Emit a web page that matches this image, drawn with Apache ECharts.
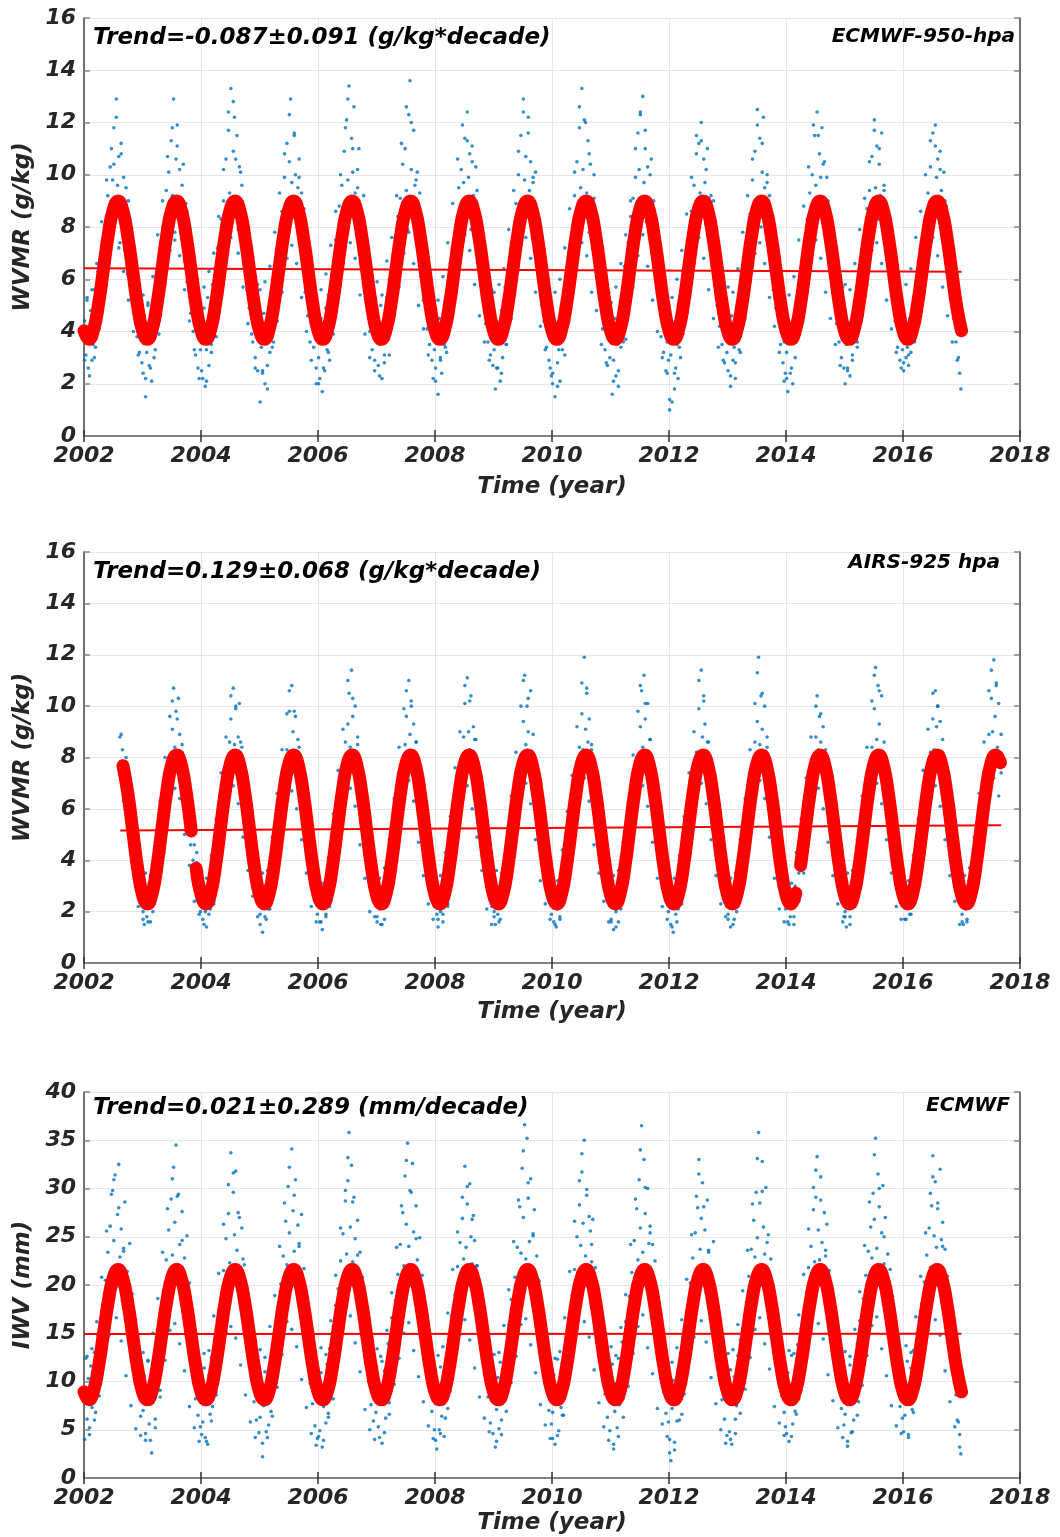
<!DOCTYPE html>
<html><head><meta charset="utf-8">
<script src="https://cdn.jsdelivr.net/npm/echarts@6/dist/echarts.min.js"></script>
<style>html,body{margin:0;padding:0;background:#fff}#c{width:1060px;height:1537px}</style>
</head><body><div id="c"></div>
<script>
// ---------- axis ticks ----------
const xTicks = [2002, 2004, 2006, 2008, 2010, 2012, 2014, 2016, 2018];
const yTicksWvmr = [0, 2, 4, 6, 8, 10, 12, 14, 16];
const yTicksIwv = [0, 5, 10, 15, 20, 25, 30, 35, 40];

// ---------- text ----------
const trendText950 = 'Trend=-0.087±0.091 (g/kg*decade)';
const trendTextAirs = 'Trend=0.129±0.068 (g/kg*decade)';
const trendTextIwv = 'Trend=0.021±0.289 (mm/decade)';
const label950 = 'ECMWF-950-hpa';
const labelAirs = 'AIRS-925 hpa';
const labelIwv = 'ECMWF';

// ---------- scatter observations: main rows (48 per year) ----------
const obsYears950 = [2002,2003,2004,2005,2006,2007,2008,2009,2010,2011,2012,2013,2014,2015,2016];
const obs950 = [
 [4.4,3.1,5.2,2.6,3.9,4.8,2.9,3.5, 5.6,3.4,4.9,6.3,4.2,6.8,5.1,7.4, 5.7,8.1,6.6,9.2,7.0,10.3,7.6,9.8, 11.8,8.2,12.9,9.6,10.7,7.4,11.2,8.9, 9.9,7.1,8.8,6.2,9.0,5.8,7.6,5.3, 6.9,4.6,5.9,3.8,5.3,3.2,4.7,2.8],
 [2.4,4.6,1.5,3.2,5.1,2.7,3.9,2.1, 4.8,3.0,5.7,4.1,6.2,3.9,7.1,5.4, 8.0,6.1,7.3,9.4,6.8,10.1,8.7,11.3, 9.2,12.9,7.8,10.6,11.9,8.3,10.2,9.1, 7.6,10.4,6.7,8.9,5.9,7.8,6.1,4.7, 6.5,4.0,5.5,3.1,4.6,2.6,5.0,3.3],
 [3.6,2.2,4.9,1.9,3.3,5.3,2.7,4.1, 3.5,5.8,4.4,6.4,3.8,7.2,5.9,6.6, 8.3,5.6,9.0,7.2,10.6,8.1,11.7,9.3, 13.3,8.5,10.9,12.2,9.1,11.5,7.9,10.3, 8.1,9.6,6.9,8.4,7.4,5.6,8.0,4.9, 6.0,3.9,5.2,4.3,3.0,5.0,2.5,3.8],
 [1.3,3.4,2.5,4.7,2.0,3.9,1.8,4.4, 3.2,5.5,4.0,3.6,6.0,4.7,6.9,5.3, 7.6,6.3,8.6,7.0,9.9,7.8,11.2,8.9, 10.5,12.9,9.7,8.6,11.6,10.0,8.1,9.5, 10.6,7.4,9.3,6.4,8.3,5.5,6.9,4.6, 5.8,3.6,6.4,4.2,3.4,4.9,2.6,3.9],
 [3.0,2.2,4.5,1.7,3.6,2.5,4.9,3.3, 5.4,2.9,4.6,6.1,3.9,5.6,7.5,6.0, 7.0,8.8,6.2,9.6,8.0,10.9,7.5,12.1, 9.8,13.4,8.6,11.4,10.1,12.6,9.3,7.7, 9.5,11.0,7.3,8.7,6.3,9.2,5.7,7.0, 4.8,6.6,4.0,5.6,3.3,4.5,2.9,3.7],
 [4.2,2.7,3.5,5.0,2.2,3.9,3.1,4.6, 5.3,3.7,6.0,4.3,5.2,6.9,4.7,7.6, 6.1,8.4,7.3,9.1,6.6,10.4,8.6,11.0, 9.4,7.9,12.3,13.6,10.2,8.4,11.7,9.6, 8.2,10.1,7.0,9.3,6.1,7.7,5.2,6.8, 5.4,4.1,6.1,3.5,4.8,2.9,4.1,3.3],
 [2.6,3.8,1.6,4.5,3.0,2.4,4.1,3.5, 4.9,3.2,5.8,4.0,6.6,4.8,5.5,7.3, 6.4,8.0,7.5,9.5,6.9,10.2,8.8,9.7, 11.4,8.3,12.4,9.9,10.8,7.9,11.1,9.2, 8.9,10.3,7.2,8.6,6.5,8.1,5.6,6.9, 6.2,4.3,5.4,3.6,4.7,3.1,4.3,2.7],
 [3.3,1.8,4.4,2.6,3.7,2.1,4.8,3.0, 4.3,5.7,3.5,6.2,4.9,5.3,7.0,6.3, 7.8,6.0,8.9,7.1,10.0,8.2,11.5,9.0, 12.9,9.8,10.7,8.4,12.2,9.4,10.5,8.1, 9.7,7.5,10.1,6.6,8.5,5.9,7.3,5.0, 6.0,4.4,5.2,3.4,4.9,2.9,3.8,2.3],
 [2.0,3.6,1.5,4.2,2.8,3.3,2.1,4.7, 3.9,5.2,3.1,6.0,4.6,5.7,6.8,4.9, 7.6,6.4,9.2,7.7,10.5,8.3,11.8,9.5, 13.3,10.2,8.7,12.0,9.3,11.3,7.8,10.4, 9.0,7.2,10.0,6.8,8.2,6.0,7.0,5.4, 5.7,4.1,6.3,3.3,4.5,2.7,3.9,3.0],
 [3.8,1.6,2.9,4.5,2.3,3.5,1.9,4.0, 3.4,5.1,4.3,6.5,3.7,5.9,7.4,5.6, 8.4,6.6,9.1,7.4,9.9,8.1,11.6,10.2, 12.4,8.8,13.0,9.7,11.0,8.2,10.3,9.0, 8.5,10.6,7.0,9.0,6.2,7.9,5.5,7.1, 5.0,3.8,5.8,3.2,4.4,2.5,3.6,2.9],
 [1.0,3.1,1.3,4.0,1.8,2.6,3.5,2.2, 4.4,3.0,5.3,3.9,5.9,4.6,6.7,5.2, 7.3,6.0,8.6,7.0,9.6,8.0,10.8,7.6, 11.2,9.3,12.0,8.5,10.6,9.7,8.1,11.0, 9.1,7.4,8.2,6.5,9.0,5.8,7.1,5.0, 6.3,4.2,5.1,3.5,4.6,2.8,4.0,3.2],
 [2.5,3.9,1.9,4.6,2.9,3.4,2.2,3.8, 4.7,3.3,5.5,4.1,6.3,4.7,5.3,6.9, 7.7,5.9,8.5,6.8,9.8,7.5,10.9,8.6, 12.5,9.1,11.4,8.0,10.1,12.2,9.5,8.4, 10.0,7.7,9.2,6.9,7.8,5.6,6.6,4.9, 5.9,4.6,5.0,3.5,4.3,2.8,3.6,2.4],
 [3.2,1.7,4.1,2.4,3.6,2.0,4.5,3.0, 3.7,5.0,4.3,5.8,4.9,6.5,5.5,7.2, 6.2,8.3,7.1,9.3,8.0,10.0,8.9,11.5, 9.6,12.4,8.5,10.8,9.9,11.8,8.2,10.5, 8.8,9.9,7.3,8.5,6.4,7.7,5.7,6.4, 5.5,4.3,4.8,3.6,4.2,3.0,3.7,2.6],
 [2.0,3.5,2.6,4.3,2.3,3.8,3.1,4.6, 4.0,5.4,3.6,5.9,4.8,6.6,5.4,7.0, 7.5,6.3,8.7,7.2,9.4,8.1,10.7,8.8, 12.1,9.5,11.1,8.3,10.4,9.2,11.6,7.9, 9.6,8.0,8.7,6.7,7.6,5.9,6.9,5.2, 5.6,4.4,5.0,3.4,4.5,2.9,3.9,3.3],
 [2.5,4.0,3.0,3.4,2.7,4.5,3.2,3.9, 4.6,3.6,5.2,4.2,6.0,4.9,6.8,5.6, 7.2,6.1,8.2,7.4,9.3,8.3,10.3,9.0, 11.6,8.6,11.9,9.9,10.6,8.3,10.9,9.4, 8.9,10.1,7.5,8.8,6.6,8.0,5.7,6.8, 6.0,4.5,5.3,3.6,4.6,3.0,2.4,1.8]
];
// extra rows (24 per year, between the main samples)
const obs950b = [
 [2.9,5.3,2.3,5.6,3.0,6.6,4.1,8.2,5.5,9.8,6.6,11.0,10.4,12.2,7.2,10.8,6.3,9.5,5.2,7.7,4.0,6.5,3.1,5.4],
 [5.4,2.2,5.0,2.6,6.1,3.3,7.7,4.6,9.0,5.8,10.7,7.1,11.8,7.5,11.1,6.9,9.6,5.6,8.6,4.4,7.2,3.3,6.0,2.2],
 [2.5,5.7,2.1,6.3,3.2,7.0,4.5,8.4,5.4,10.2,6.9,12.4,7.6,12.8,10.6,7.0,10.1,5.7,8.4,4.3,7.0,3.6,2.6,5.8],
 [5.6,2.4,5.9,2.7,6.5,3.4,7.8,4.4,9.3,5.5,10.8,6.8,12.3,7.3,11.5,6.6,9.9,5.3,8.7,4.0,6.8,2.9,5.6,2.0],
 [2.0,5.6,2.6,6.2,3.2,7.3,4.3,8.6,5.3,10.0,6.6,11.8,12.9,7.4,11.0,6.8,10.2,5.4,8.0,3.9,6.9,3.0,5.9,2.5],
 [5.9,2.3,5.4,2.8,6.7,3.1,7.6,4.8,9.2,5.7,11.2,7.0,12.6,7.8,12.0,6.6,9.8,5.0,8.2,4.1,7.1,3.1,5.7,2.2],
 [2.1,5.2,2.9,6.1,3.4,7.4,4.6,8.9,5.9,10.6,6.7,11.9,7.7,11.3,7.1,10.5,5.8,9.4,4.6,7.8,3.6,6.6,2.9,5.6],
 [5.5,2.6,5.8,2.4,6.4,3.5,7.9,4.5,9.4,6.0,10.9,7.3,12.4,7.6,11.6,6.8,9.9,5.5,8.5,4.2,7.3,3.3,5.8,2.6],
 [2.4,5.5,1.9,6.0,3.3,7.2,4.2,8.7,5.6,10.1,7.0,12.6,7.4,12.1,6.9,10.8,5.5,9.1,4.8,7.6,3.5,6.2,2.8,5.5],
 [5.1,2.1,5.7,2.5,6.6,3.6,7.7,4.7,9.0,5.7,11.0,6.9,12.3,7.7,11.7,6.5,10.0,5.2,8.3,4.0,7.2,3.0,5.9,2.4],
 [1.4,5.3,2.4,6.0,3.4,7.1,4.3,8.5,5.5,9.9,6.6,11.5,7.6,11.3,6.8,10.2,5.6,9.2,4.5,7.5,3.4,6.2,2.9,5.3],
 [5.7,2.3,5.5,2.8,6.4,3.2,7.8,4.5,9.2,5.9,10.6,7.0,11.9,7.4,11.2,6.6,9.7,5.3,8.3,4.2,6.9,3.2,5.5,2.1],
 [2.2,5.4,2.6,6.1,3.6,7.5,4.4,8.8,5.8,10.3,6.9,11.9,7.5,11.5,6.8,10.4,5.5,9.0,4.5,7.4,3.5,6.3,2.7,5.7],
 [5.8,2.5,5.6,2.9,6.6,3.4,7.9,4.6,9.1,5.8,10.5,7.1,11.7,7.4,11.0,6.6,9.4,5.2,8.1,4.1,6.8,3.2,5.4,2.6],
 [2.8,5.8,3.1,6.4,3.7,7.6,4.6,8.6,5.9,10.0,7.0,11.3,7.6,11.1,6.9,10.2,5.7,9.0,4.6,7.6,3.6,6.3,2.9,4.9]
];

// AIRS: first row begins late in 2002, last row ends in Aug/Sep 2017
const obsYearsAirs = [2002,2003,2004,2005,2006,2007,2008,2009,2010,2011,2012,2013,2014,2015,2016,2017];
const obsAirs = [
 [8.8,7.4,8.3,6.9,7.6,6.2,7.0,5.5,6.3,4.8,5.7,4.1,4.9,3.5,4.2,2.9,3.6,2.4,3.1],
 [2.0,1.5,2.8,1.8,2.4,3.1,1.6,2.2, 3.0,2.3,3.7,2.8,4.2,3.3,4.6,3.6, 5.1,4.3,6.2,5.4,7.0,6.3,8.0,7.2, 9.1,10.7,8.4,9.8,7.6,10.3,8.9,7.3, 8.2,6.6,7.4,5.9,6.8,5.2,6.0,4.6, 5.5,4.0,4.6,3.3,3.9,2.6,3.2,2.0],
 [2.5,1.7,3.0,2.0,1.4,2.6,3.3,2.1, 2.9,3.6,2.4,4.1,3.2,4.8,3.7,5.3, 4.8,6.0,5.5,6.9,6.1,7.8,7.0,8.6, 9.5,7.9,10.7,8.5,9.9,7.6,8.8,10.1, 7.3,8.4,6.5,7.5,5.8,6.8,5.0,5.9, 4.6,5.4,3.7,4.3,3.0,3.6,2.4,2.9],
 [1.9,2.7,1.2,2.3,3.0,1.7,2.6,2.1, 3.2,2.5,3.9,3.0,4.5,3.5,5.1,4.2, 5.7,4.8,6.6,5.6,7.4,6.3,8.3,7.5, 9.8,8.2,10.8,9.0,8.0,9.6,7.4,8.7, 7.8,6.7,7.2,5.6,6.4,5.0,5.7,4.4, 5.0,3.8,4.4,3.1,3.5,2.5,2.9,1.9],
 [2.4,1.6,2.9,1.3,2.2,2.8,1.9,2.6, 3.4,2.2,3.8,3.1,4.4,3.6,4.9,4.0, 5.6,4.6,6.4,5.8,7.1,6.5,8.6,7.3, 9.3,10.5,8.4,11.4,9.6,8.2,10.0,7.7, 8.5,7.0,7.9,6.1,6.9,5.3,6.2,4.7, 5.3,4.2,4.5,3.4,3.8,2.7,3.1,2.3],
 [1.8,2.5,2.1,1.5,2.9,2.3,1.7,2.7, 3.1,2.4,3.7,2.9,4.3,3.4,5.0,4.1, 5.4,6.2,4.9,7.0,6.0,7.7,6.8,8.5, 9.6,7.8,11.0,8.9,10.2,8.0,9.3,7.5, 8.6,7.1,7.6,6.3,7.0,5.4,6.0,4.8, 5.2,4.0,4.7,3.2,3.7,2.6,3.0,2.2],
 [2.6,1.9,1.4,2.3,2.0,2.8,1.6,3.0, 2.7,3.5,2.3,4.0,3.3,4.7,3.9,5.2, 5.0,6.1,5.7,6.8,6.4,7.5,7.1,8.8, 10.1,8.1,11.1,9.0,8.3,10.4,7.9,9.2, 7.5,8.7,6.6,7.7,5.7,6.6,5.1,5.8, 4.5,5.3,3.6,4.2,2.9,3.5,2.2,2.8],
 [2.0,1.5,2.6,1.9,2.4,1.7,2.9,2.2, 3.3,2.6,3.6,3.1,4.2,3.5,4.8,4.3, 5.4,4.7,6.5,5.5,7.2,6.2,8.1,7.4, 9.4,11.2,8.5,10.0,9.0,7.7,10.6,8.2, 8.0,6.9,7.4,6.0,6.7,5.2,5.9,4.6, 5.0,3.9,4.3,3.3,3.6,2.7,2.8,1.9],
 [2.3,1.6,2.9,1.4,2.1,2.5,1.8,2.8, 3.0,2.3,3.8,2.9,4.5,3.4,5.0,4.0, 5.9,4.9,6.7,5.7,7.6,6.4,8.4,7.1, 9.7,8.3,11.9,9.1,10.5,8.6,9.5,7.8, 8.3,7.0,7.8,6.1,6.6,5.5,6.1,4.8, 5.4,4.1,4.6,3.4,3.8,2.8,3.2,2.4],
 [1.7,2.4,1.3,2.7,2.0,2.5,1.6,2.3, 3.1,2.7,3.5,2.8,4.3,3.7,4.6,4.2, 5.3,4.4,6.3,5.9,6.9,6.6,8.0,7.6, 9.2,10.6,8.4,11.2,9.5,8.0,10.1,7.6, 8.7,7.2,7.3,6.2,6.9,5.1,5.8,4.5, 5.1,3.9,4.4,3.1,3.6,2.6,3.0,2.0],
 [2.2,1.5,2.8,1.2,2.4,1.9,2.6,2.1, 2.9,2.4,3.6,3.2,4.0,3.5,4.9,4.1, 5.5,4.8,6.1,5.8,7.3,6.3,8.2,7.0, 9.9,8.0,11.4,8.8,10.2,9.3,7.8,8.6, 7.9,6.8,7.5,6.0,6.6,5.3,6.2,4.6, 5.3,4.0,4.5,3.3,3.9,2.7,3.1,2.2],
 [1.9,2.6,1.4,2.2,2.8,1.7,2.4,2.0, 3.3,2.5,3.8,3.0,4.4,3.6,5.1,4.3, 5.6,4.5,6.6,5.4,7.5,6.4,8.6,7.2, 9.4,11.9,8.5,10.4,9.1,7.9,10.0,8.2, 8.4,6.9,7.7,6.3,6.5,5.5,6.0,4.7, 5.2,4.1,4.3,3.2,3.7,2.5,3.0,2.1],
 [2.4,1.6,2.9,1.8,2.3,2.7,1.5,3.0, 3.9,2.6,3.5,4.2,3.6,4.6,4.0,5.3, 5.8,4.7,6.4,5.6,7.3,6.1,8.0,7.4, 8.8,10.4,8.3,9.6,8.6,7.7,9.2,7.9, 7.6,6.6,7.2,5.8,6.3,5.2,5.6,4.5, 4.9,3.8,4.2,3.0,3.4,2.5,2.8,1.8],
 [2.0,1.4,2.6,2.2,1.8,2.9,2.3,2.6, 3.2,2.4,3.7,3.3,4.1,3.9,4.8,4.4, 5.2,4.8,6.3,5.5,7.0,6.6,8.4,7.6, 9.9,11.5,8.7,10.8,9.3,8.1,10.4,7.6, 8.1,7.0,7.6,6.1,6.8,5.4,6.3,4.9, 5.0,4.2,4.6,3.4,3.7,2.7,3.2,2.3],
 [2.5,1.7,3.0,2.2,2.6,1.9,2.8,2.4, 3.4,2.7,3.9,3.3,4.3,3.8,5.0,4.5, 5.7,4.9,6.5,5.9,7.4,6.7,8.2,7.3, 9.5,8.3,10.6,9.2,10.0,8.0,9.4,7.8, 8.2,7.1,7.5,6.4,6.7,5.6,6.2,4.8, 5.1,4.4,4.6,3.3,3.9,2.9,3.4,2.3],
 [1.9,1.5,2.7,2.1,1.6,2.8,2.3,2.5, 3.2,2.9,3.7,3.4,4.5,3.9,5.1,4.4, 5.9,5.0,6.8,6.2,7.6,7.0,8.9,7.8, 10.3,9.0,11.8,9.6,10.9,8.4,10.1,7.9, 7.4]
];
const obsAirsB = [
 [8.9,6.3,8.0,5.3,6.6,3.8,5.1,2.2,3.8],
 [1.7,3.5,1.6,3.4,2.0,4.7,3.0,6.3,4.6,8.0,5.7,9.6,10.2,6.8,9.5,6.4,8.5,5.0,7.0,3.8,5.6,2.4,4.3,1.9],
 [3.6,1.5,3.3,1.9,4.2,2.3,5.6,3.8,7.4,5.1,8.8,6.3,10.4,6.9,10.0,6.2,8.6,4.9,6.9,3.6,5.4,2.6,4.1,1.8],
 [1.5,3.5,1.8,3.6,2.1,4.9,3.2,6.6,4.4,8.3,5.8,9.7,10.6,6.7,9.8,6.0,8.4,4.8,7.2,3.5,5.3,2.2,4.0,1.6],
 [3.4,1.6,3.1,1.8,4.1,2.4,5.8,3.6,7.5,4.8,9.1,6.2,11.0,6.8,10.3,6.1,8.8,4.6,7.0,3.3,5.5,2.0,3.9,1.8],
 [1.6,3.3,1.5,3.7,2.2,4.8,3.1,6.4,4.5,8.4,5.9,9.9,10.6,7.1,10.0,6.3,8.6,4.7,6.8,3.4,5.2,2.3,4.2,1.7],
 [3.5,1.7,3.4,1.9,4.3,2.2,5.7,3.5,7.6,5.0,9.0,6.4,10.8,6.9,10.2,6.0,8.7,4.9,7.1,3.6,5.6,2.1,3.8,1.5],
 [1.8,3.6,1.6,3.5,2.3,4.6,3.3,6.5,4.7,8.2,5.7,10.0,11.0,7.0,10.3,6.2,8.9,4.8,6.8,3.2,5.1,2.3,4.0,1.7],
 [3.3,1.5,3.2,1.7,4.4,2.5,5.9,3.6,7.3,5.2,9.2,6.3,10.9,7.2,10.7,6.3,8.5,4.6,7.1,3.5,5.4,2.4,4.1,1.6],
 [1.6,3.4,1.4,3.6,2.1,4.7,3.2,6.2,4.6,8.1,5.9,9.8,10.8,6.9,10.1,6.1,8.7,4.7,6.9,3.3,5.3,2.2,3.9,1.7],
 [3.5,1.4,3.3,1.6,4.2,2.3,5.7,3.4,7.4,5.0,9.0,6.2,11.0,7.0,10.4,6.2,8.6,4.8,7.0,3.4,5.5,2.3,4.2,1.8],
 [1.7,3.3,1.5,3.5,2.2,4.8,3.2,6.4,4.5,8.3,5.8,10.1,11.3,7.1,10.5,6.4,8.8,4.9,6.7,3.3,5.2,2.1,3.9,1.6],
 [3.4,1.5,3.1,1.8,4.3,2.4,5.6,3.5,7.2,4.9,8.8,6.3,10.0,6.8,9.7,6.0,8.3,4.7,6.8,3.4,5.4,2.3,4.0,1.6],
 [1.8,3.5,1.5,3.6,2.2,4.8,3.1,6.5,4.6,8.4,5.9,10.2,11.2,7.0,10.6,6.2,8.6,4.8,7.0,3.5,5.2,2.2,4.0,1.7],
 [3.4,1.7,3.2,1.9,4.2,2.5,5.6,3.6,7.5,5.1,9.1,6.4,10.5,6.9,10.0,6.1,8.7,4.8,6.9,3.4,5.3,2.4,4.1,1.5],
 [1.6,3.4,1.7,3.7,2.3,4.9,3.3,6.6,4.8,8.6,6.0,10.6,11.4,7.2,10.8,6.5,8.9]
];

const obsYearsIwv = [2002,2003,2004,2005,2006,2007,2008,2009,2010,2011,2012,2013,2014,2015,2016];
const obsIwv = [
 [8.2,12.4,6.1,10.3,4.5,11.6,7.3,9.5, 13.0,6.8,11.2,14.8,9.7,16.1,12.3,18.0, 14.2,20.5,16.6,23.4,18.9,26.1,21.7,29.8, 24.6,31.4,19.8,27.3,32.5,22.9,25.8,18.4, 23.5,28.6,17.2,21.4,15.6,24.3,14.0,19.1, 12.2,16.9,10.1,13.4,8.8,11.5,6.4,9.3],
 [7.0,10.6,3.9,8.8,12.1,5.6,9.9,2.6, 7.8,11.3,5.2,13.6,9.1,15.3,8.4,17.5, 12.7,19.4,15.0,22.6,17.8,25.7,20.3,28.9, 23.1,32.2,26.5,34.5,21.0,29.4,24.2,19.5, 27.6,18.3,22.8,16.0,25.1,14.7,20.2,12.8, 17.3,10.9,14.1,8.2,12.0,6.5,10.4,5.3],
 [9.6,5.8,11.4,4.2,8.3,3.5,10.7,6.6, 12.5,7.4,9.8,14.2,8.6,16.4,11.0,15.1, 18.7,13.2,21.5,16.3,24.8,19.1,27.4,22.3, 33.7,20.7,29.6,25.2,31.8,23.6,19.9,27.0, 21.3,25.9,16.8,22.1,15.2,19.6,13.1,17.0, 14.6,10.5,12.9,7.9,11.1,6.0,9.2,4.7],
 [6.3,9.0,2.2,7.5,11.0,4.8,8.1,5.5, 10.2,6.9,12.8,9.4,14.5,10.6,17.2,12.4, 15.6,20.1,17.4,23.0,19.7,26.6,22.1,30.2, 25.4,21.8,34.1,27.7,23.5,30.9,20.6,26.2, 24.0,18.6,27.3,16.5,21.7,14.3,18.9,12.5, 16.2,9.8,13.7,7.7,10.8,5.4,8.6,4.1],
 [8.7,4.9,10.9,3.2,7.4,9.8,5.7,11.8, 6.7,13.4,9.0,12.1,15.7,10.3,17.9,13.6, 19.6,15.3,22.5,17.1,25.3,20.4,28.7,23.2, 30.8,35.8,26.0,32.4,22.4,29.1,24.8,20.1, 26.7,18.0,23.4,15.9,20.8,14.1,17.6,11.9, 15.4,10.0,13.0,7.6,11.7,5.9,9.5,6.8],
 [10.1,5.3,8.9,12.6,3.6,7.9,11.1,6.2, 9.6,13.9,7.8,12.3,16.6,10.9,15.0,18.4, 14.0,21.1,16.9,24.2,19.3,27.5,22.0,31.3, 26.3,34.7,24.0,29.8,21.5,32.6,25.5,19.6, 28.2,22.6,17.7,24.9,15.5,21.0,13.8,18.2, 16.0,11.2,13.3,9.0,12.0,6.9,10.2,5.0],
 [7.7,3.0,9.4,5.0,11.5,6.4,8.5,4.3, 10.6,12.2,7.2,14.0,9.9,16.8,12.6,15.4, 19.0,14.6,21.9,17.6,24.4,20.0,26.9,22.7, 32.3,23.9,28.4,20.9,30.5,25.0,22.2,27.2, 24.6,19.3,22.0,17.0,19.9,15.0,17.4,12.3, 15.1,10.7,12.6,8.4,10.5,5.7,8.0,4.6],
 [9.2,3.2,7.1,10.4,5.1,12.0,6.0,8.7, 11.7,8.0,13.1,10.2,15.9,11.8,18.5,14.4, 16.4,20.8,18.1,23.9,21.0,28.1,23.3,32.1, 27.0,36.6,22.7,35.2,29.0,24.5,31.0,21.4, 25.3,27.8,18.8,23.0,16.3,20.4,14.6,18.0, 13.5,16.5,11.3,9.4,12.4,7.0,10.0,5.6],
 [6.8,10.7,3.5,8.0,12.3,4.9,9.6,7.3, 11.9,6.5,13.5,9.3,15.1,11.4,17.0,13.9, 18.9,15.8,21.6,18.2,25.0,21.2,28.3,24.1, 31.7,26.4,35.0,23.0,29.3,21.9,27.1,25.6, 22.4,26.8,18.5,21.8,16.7,19.4,13.7,17.5, 15.0,11.0,13.2,8.7,10.9,6.3,9.0,4.9],
 [8.4,11.8,3.0,6.9,9.8,5.2,12.4,7.6, 10.0,14.1,8.3,12.7,16.2,11.2,14.9,18.8, 15.4,21.3,17.7,24.6,20.2,27.9,22.6,30.9, 25.9,36.5,23.4,33.0,27.4,20.5,30.0,24.3, 26.1,20.9,24.2,17.9,22.5,15.4,19.2,13.0, 16.6,11.6,14.0,8.9,11.4,6.7,9.1,5.8],
 [4.0,1.8,7.2,10.1,2.9,8.6,5.9,11.3, 8.9,12.9,6.6,14.6,10.4,16.0,13.3,17.8, 15.2,20.2,17.3,22.8,19.6,25.4,21.4,28.0, 33.0,23.7,26.9,30.6,22.1,25.7,19.2,28.8, 23.6,17.5,21.2,16.1,24.5,14.5,18.3,12.7, 15.8,10.6,13.7,8.1,11.9,6.1,9.9,4.4],
 [9.5,4.8,11.2,3.5,8.2,10.5,6.1,7.5, 12.7,8.8,14.3,10.1,13.1,15.8,11.5,18.2, 16.7,20.9,14.8,23.7,19.0,26.7,22.9,29.6, 24.9,35.8,28.5,21.8,32.8,26.0,23.2,30.1, 20.7,25.2,18.4,22.7,16.0,20.0,14.2,17.1, 14.8,12.1,10.4,13.6,8.5,11.0,6.8,5.3],
 [7.9,10.9,3.8,8.9,12.7,5.6,9.7,6.9, 11.0,13.8,8.2,12.9,15.5,10.8,16.9,14.1, 18.4,16.2,21.8,17.9,24.0,20.7,27.8,22.4, 29.1,33.3,25.7,22.6,31.2,24.4,19.7,27.5, 23.0,26.3,18.9,21.5,16.9,19.0,13.9,17.3, 15.5,11.3,12.8,9.2,10.6,7.2,8.3,5.5],
 [6.6,9.9,3.3,8.4,11.7,4.7,10.6,6.0, 12.3,9.0,13.9,7.9,16.3,11.6,15.2,18.6, 14.7,21.0,18.0,23.5,20.5,26.0,22.8,29.5, 26.8,35.2,23.8,31.5,28.1,21.2,25.4,30.3, 22.2,27.0,17.6,23.2,15.8,21.6,14.4,18.8, 16.4,11.9,13.5,9.6,11.8,7.4,9.4,6.2],
 [10.4,6.5,8.1,12.1,4.2,9.3,11.4,7.1, 13.2,9.5,11.6,15.0,10.7,16.6,13.0,18.1, 16.1,20.3,17.5,23.1,19.9,25.9,21.8,28.2, 33.4,25.1,30.7,23.9,27.9,20.8,32.0,24.7, 26.5,21.1,23.7,18.6,20.9,16.0,18.7,14.0, 15.3,11.7,12.9,8.6,10.3,5.8,4.5,2.5]
];
const obsIwvB = [
 [4.0,12.6,5.2,13.4,6.0,16.2,8.5,20.8,12.4,25.6,14.8,29.4,30.9,16.6,28.0,14.2,23.8,10.6,19.4,7.5,15.6,5.1,12.8,4.4],
 [13.0,4.6,12.2,3.9,15.0,6.1,18.6,9.1,23.4,12.2,27.9,15.3,31.0,16.0,29.2,13.9,24.6,11.1,20.3,7.4,15.4,5.2,13.2,3.8],
 [4.5,12.9,3.8,13.2,5.9,16.8,8.9,21.2,12.0,26.3,15.1,30.4,15.7,31.6,14.5,27.5,11.7,22.7,8.6,17.8,5.8,14.6,4.2,12.6],
 [13.3,3.6,12.5,4.2,15.7,6.4,18.9,9.4,24.0,12.8,28.5,16.2,32.2,15.4,29.3,13.6,24.3,10.2,19.2,7.3,15.0,4.6,12.1,3.4],
 [4.3,13.5,3.9,12.8,6.3,16.3,8.2,21.0,12.6,25.9,15.6,29.8,33.2,16.8,28.6,14.0,23.1,11.0,18.8,7.1,15.8,5.0,13.0,4.0],
 [13.4,4.2,12.1,4.7,15.3,6.6,19.2,9.7,23.9,12.4,28.2,15.0,32.9,16.1,29.6,13.2,24.8,10.5,19.9,7.9,15.1,5.4,12.3,4.1],
 [3.9,12.7,4.6,13.6,6.2,17.1,9.0,21.6,12.7,25.5,14.9,29.1,16.4,30.2,14.3,26.8,11.4,22.0,8.4,18.1,6.2,14.3,4.8,12.1],
 [12.8,3.8,13.0,4.5,15.8,6.9,19.5,9.9,24.5,12.6,28.8,15.9,33.9,16.5,30.6,13.8,25.1,10.9,20.6,7.6,15.9,5.5,12.9,4.1],
 [4.1,12.4,4.4,13.1,6.5,16.6,9.3,21.4,12.3,26.6,15.5,30.8,33.6,16.2,29.9,14.6,24.2,11.2,19.6,7.8,15.2,5.3,12.4,3.9],
 [13.6,3.5,12.7,4.3,15.6,6.3,19.0,9.5,24.2,12.9,28.9,15.7,34.0,16.9,30.1,13.5,25.4,10.8,20.0,7.2,15.7,5.6,13.1,4.3],
 [2.6,12.0,3.7,13.5,6.0,16.4,8.7,20.6,12.1,25.2,14.6,29.2,31.5,16.3,28.1,14.1,23.4,10.4,19.0,7.7,15.3,5.0,12.7,3.6],
 [12.9,4.0,13.3,4.6,15.9,6.7,19.4,9.2,23.6,12.5,28.4,15.4,33.1,16.6,29.7,13.9,24.4,11.3,19.8,7.4,15.5,5.7,12.6,4.4],
 [4.6,13.2,4.3,12.9,6.6,16.9,9.1,21.1,12.8,25.8,15.2,30.1,31.9,16.0,28.8,14.4,23.6,10.7,19.3,8.0,15.0,5.2,12.2,4.2],
 [13.1,3.8,12.6,4.8,15.4,6.5,19.3,9.6,24.1,12.7,28.6,15.8,33.5,16.7,30.0,13.4,25.0,10.6,20.4,7.5,15.6,5.4,13.3,4.6],
 [4.8,13.7,4.5,13.0,6.8,16.7,9.4,20.9,12.5,25.4,15.3,29.5,31.2,16.4,28.5,14.8,24.0,11.1,19.5,7.9,15.4,5.3,6.0,3.2]
];

// ---------- fitted seasonal curves, monthly values ----------
const fit950Start = 2002.0;
const fit950 = [
 4.03,3.70,4.09,5.07,6.40,7.72,8.67,9.00,8.61,7.62,6.30,4.97,
 4.03,3.70,4.09,5.07,6.40,7.72,8.67,9.00,8.61,7.62,6.30,4.97,
 4.03,3.70,4.09,5.07,6.40,7.72,8.67,9.00,8.61,7.62,6.30,4.97,
 4.03,3.70,4.09,5.07,6.40,7.72,8.67,9.00,8.61,7.62,6.30,4.97,
 4.03,3.70,4.09,5.07,6.40,7.72,8.67,9.00,8.61,7.62,6.30,4.97,
 4.03,3.70,4.09,5.07,6.40,7.72,8.67,9.00,8.61,7.62,6.30,4.97,
 4.03,3.70,4.09,5.07,6.40,7.72,8.67,9.00,8.61,7.62,6.30,4.97,
 4.03,3.70,4.09,5.07,6.40,7.72,8.67,9.00,8.61,7.62,6.30,4.97,
 4.03,3.70,4.09,5.07,6.40,7.72,8.67,9.00,8.61,7.62,6.30,4.97,
 4.03,3.70,4.09,5.07,6.40,7.72,8.67,9.00,8.61,7.62,6.30,4.97,
 4.03,3.70,4.09,5.07,6.40,7.72,8.67,9.00,8.61,7.62,6.30,4.97,
 4.03,3.70,4.09,5.07,6.40,7.72,8.67,9.00,8.61,7.62,6.30,4.97,
 4.03,3.70,4.09,5.07,6.40,7.72,8.67,9.00,8.61,7.62,6.30,4.97,
 4.03,3.70,4.09,5.07,6.40,7.72,8.67,9.00,8.61,7.62,6.30,4.97,
 4.03,3.70,4.09,5.07,6.40,7.72,8.67,9.00,8.61,7.62,6.30,4.97,
 4.03
];
const fitAirsStart = 2002 + 8 / 12;
const fitAirs = [
                                                 7.68,6.60,5.14,3.69,
 2.66,2.30,2.72,3.80,5.26,6.70,7.74,8.10,7.68,6.60,5.14,3.69,
 2.66,2.30,2.72,3.80,5.26,6.70,7.74,8.10,7.68,6.60,5.14,3.69,
 2.66,2.30,2.72,3.80,5.26,6.70,7.74,8.10,7.68,6.60,5.14,3.69,
 2.66,2.30,2.72,3.80,5.26,6.70,7.74,8.10,7.68,6.60,5.14,3.69,
 2.66,2.30,2.72,3.80,5.26,6.70,7.74,8.10,7.68,6.60,5.14,3.69,
 2.66,2.30,2.72,3.80,5.26,6.70,7.74,8.10,7.68,6.60,5.14,3.69,
 2.66,2.30,2.72,3.80,5.26,6.70,7.74,8.10,7.68,6.60,5.14,3.69,
 2.66,2.30,2.72,3.80,5.26,6.70,7.74,8.10,7.68,6.60,5.14,3.69,
 2.66,2.30,2.72,3.80,5.26,6.70,7.74,8.10,7.68,6.60,5.14,3.69,
 2.66,2.30,2.72,3.80,5.26,6.70,7.74,8.10,7.68,6.60,5.14,3.69,
 2.66,2.30,2.72,3.80,5.26,6.70,7.74,8.10,7.68,6.60,5.14,3.69,
 2.66,2.30,2.72,3.80,5.26,6.70,7.74,8.10,7.68,6.60,5.14,3.69,
 2.66,2.30,2.72,3.80,5.26,6.70,7.74,8.10,7.68,6.60,5.14,3.69,
 2.66,2.30,2.72,3.80,5.26,6.70,7.74,8.10,7.68,6.60,5.14,3.69,
 2.66,2.30,2.72,3.80,5.26,6.70,7.74,8.10,7.80
];
const fitAirsGaps = [2003.875, 2014.21];
const fitIwvStart = 2002.0;
const fitIwv = [
 8.93,8.10,9.07,11.60,14.98,18.35,20.76,21.60,20.61,18.10,14.72,11.35,
 8.93,8.10,9.07,11.60,14.98,18.35,20.76,21.60,20.61,18.10,14.72,11.35,
 8.93,8.10,9.07,11.60,14.98,18.35,20.76,21.60,20.61,18.10,14.72,11.35,
 8.93,8.10,9.07,11.60,14.98,18.35,20.76,21.60,20.61,18.10,14.72,11.35,
 8.93,8.10,9.07,11.60,14.98,18.35,20.76,21.60,20.61,18.10,14.72,11.35,
 8.93,8.10,9.07,11.60,14.98,18.35,20.76,21.60,20.61,18.10,14.72,11.35,
 8.93,8.10,9.07,11.60,14.98,18.35,20.76,21.60,20.61,18.10,14.72,11.35,
 8.93,8.10,9.07,11.60,14.98,18.35,20.76,21.60,20.61,18.10,14.72,11.35,
 8.93,8.10,9.07,11.60,14.98,18.35,20.76,21.60,20.61,18.10,14.72,11.35,
 8.93,8.10,9.07,11.60,14.98,18.35,20.76,21.60,20.61,18.10,14.72,11.35,
 8.93,8.10,9.07,11.60,14.98,18.35,20.76,21.60,20.61,18.10,14.72,11.35,
 8.93,8.10,9.07,11.60,14.98,18.35,20.76,21.60,20.61,18.10,14.72,11.35,
 8.93,8.10,9.07,11.60,14.98,18.35,20.76,21.60,20.61,18.10,14.72,11.35,
 8.93,8.10,9.07,11.60,14.98,18.35,20.76,21.60,20.61,18.10,14.72,11.35,
 8.93,8.10,9.07,11.60,14.98,18.35,20.76,21.60,20.61,18.10,14.72,11.35,
 8.93
];

// ---------- linear trend lines (start / end) ----------
const trend950 = [[2002.0, 6.42], [2017.0, 6.29]];
const trendAirs = [[2002.62, 5.16], [2017.68, 5.36]];
const trendIwv = [[2002.0, 14.92], [2017.0, 14.95]];

// ---------- build ----------
function obsPairs(years, rows, perYear, shift) {
  const out = [];
  rows.forEach((row, i) => {
    const off = (i === 0 && row.length < perYear) ? perYear - row.length : 0;
    row.forEach((v, j) => out.push([years[i] + (off + j + shift) / perYear, v]));
  });
  return out;
}
function monthly(start, vals, gaps) {
  const out = vals.map((v, k) => [start + k / 12, v]);
  (gaps || []).forEach(g => out.push([g, null]));
  out.sort((a, b) => a[0] - b[0]);
  return out;
}

const FONT = 'DejaVu Sans';
const TXT = '#262626';
const grids = [
  { left: 84, top: 18, width: 936, height: 418 },
  { left: 84, top: 552, width: 936, height: 411 },
  { left: 84, top: 1092, width: 936, height: 386 }
];
const yRanges = [[0, 16, 2], [0, 16, 2], [0, 40, 5]];
const yNames = ['WVMR (g/kg)', 'WVMR (g/kg)', 'IWV (mm)'];
const xNameGaps = [40, 38, 34];

const labelStyle = { fontFamily: FONT, fontWeight: 'bold', fontStyle: 'italic', fontSize: 22, color: TXT };
const nameStyle = { fontFamily: FONT, fontWeight: 'bold', fontStyle: 'italic', fontSize: 23, color: TXT };

const xAxis = [], yAxis = [];
grids.forEach((g, i) => {
  xAxis.push({
    gridIndex: i, type: 'value', min: xTicks[0], max: xTicks[xTicks.length - 1], interval: 2,
    position: 'bottom',
    axisLine: { show: true, lineStyle: { color: '#444', width: 1.5 } },
    axisTick: { show: true, inside: true, length: 6, lineStyle: { color: '#333', width: 1.5 } },
    axisLabel: Object.assign({ margin: 9, formatter: v => String(v) }, labelStyle),
    splitLine: { show: true, lineStyle: { color: '#e6e6e6', width: 1 } },
    name: 'Time (year)', nameLocation: 'middle', nameGap: xNameGaps[i],
    nameTextStyle: nameStyle
  });
  xAxis.push({
    gridIndex: i, type: 'value', min: xTicks[0], max: xTicks[xTicks.length - 1], interval: 2,
    position: 'top',
    axisLine: { show: true, lineStyle: { color: '#888', width: 1.5 } },
    axisTick: { show: true, inside: true, length: 6, lineStyle: { color: '#333', width: 1.5 } },
    axisLabel: { show: false }, splitLine: { show: false }
  });
  const r = yRanges[i];
  yAxis.push({
    gridIndex: i, type: 'value', min: r[0], max: r[1], interval: r[2], position: 'left',
    axisLine: { show: true, lineStyle: { color: '#444', width: 1.5 } },
    axisTick: { show: true, inside: true, length: 6, lineStyle: { color: '#888', width: 1.5 } },
    axisLabel: Object.assign({ margin: 8, formatter: v => String(v) }, labelStyle),
    splitLine: { show: true, lineStyle: { color: '#e6e6e6', width: 1 } },
    name: yNames[i], nameLocation: 'middle', nameGap: 48,
    nameTextStyle: nameStyle
  });
  yAxis.push({
    gridIndex: i, type: 'value', min: r[0], max: r[1], interval: r[2], position: 'right',
    axisLine: { show: true, lineStyle: { color: '#444', width: 1.5 } },
    axisTick: { show: true, inside: true, length: 6, lineStyle: { color: '#888', width: 1.5 } },
    axisLabel: { show: false }, splitLine: { show: false }
  });
});

const obsSets = [
  obsPairs(obsYears950, obs950, 48, 0.5).concat(obsPairs(obsYears950, obs950b, 24, 0.25)),
  obsPairs(obsYearsAirs, obsAirs, 48, 0.5).concat(obsPairs(obsYearsAirs, obsAirsB, 24, 0.25)),
  obsPairs(obsYearsIwv, obsIwv, 48, 0.5).concat(obsPairs(obsYearsIwv, obsIwvB, 24, 0.25))
];
const fitSets = [monthly(fit950Start, fit950), monthly(fitAirsStart, fitAirs, fitAirsGaps), monthly(fitIwvStart, fitIwv)];
const trendSets = [trend950, trendAirs, trendIwv];

const series = [];
for (let i = 0; i < 3; i++) {
  series.push({
    type: 'scatter', xAxisIndex: 2 * i, yAxisIndex: 2 * i, data: obsSets[i],
    symbol: 'circle', symbolSize: 3.6, itemStyle: { color: '#0072BD' }, z: 2, silent: true
  });
  series.push({
    type: 'line', xAxisIndex: 2 * i, yAxisIndex: 2 * i, data: trendSets[i],
    showSymbol: false, lineStyle: { color: '#ff0000', width: 2 }, z: 3, silent: true
  });
  series.push({
    type: 'line', xAxisIndex: 2 * i, yAxisIndex: 2 * i, data: fitSets[i], smooth: 0.5,
    connectNulls: false, showSymbol: false,
    lineStyle: { color: '#ff0000', width: 13, cap: 'round', join: 'round' }, z: 4, silent: true
  });
}

const titleStyle = { fontFamily: FONT, fontWeight: 'bold', fontStyle: 'italic', fontSize: 23, color: '#000' };
const tagStyle = { fontFamily: FONT, fontWeight: 'bold', fontStyle: 'italic', fontSize: 20, color: '#000' };
const title = [
  { text: trendText950, left: 93, top: 27, padding: 0, textStyle: titleStyle },
  { text: label950, right: 45, top: 27, padding: 0, textStyle: tagStyle },
  { text: trendTextAirs, left: 93, top: 561, padding: 0, textStyle: titleStyle },
  { text: labelAirs, right: 60, top: 553, padding: 0, textStyle: tagStyle },
  { text: trendTextIwv, left: 93, top: 1097, padding: 0, textStyle: titleStyle },
  { text: labelIwv, right: 50, top: 1096, padding: 0, textStyle: tagStyle }
];

const chart = echarts.init(document.getElementById('c'), null, { renderer: 'canvas' });
chart.setOption({
  animation: false,
  backgroundColor: '#fff',
  title: title,
  grid: grids.map(g => Object.assign({ containLabel: false, show: false }, g)),
  xAxis: xAxis, yAxis: yAxis, series: series
});
</script></body></html>
